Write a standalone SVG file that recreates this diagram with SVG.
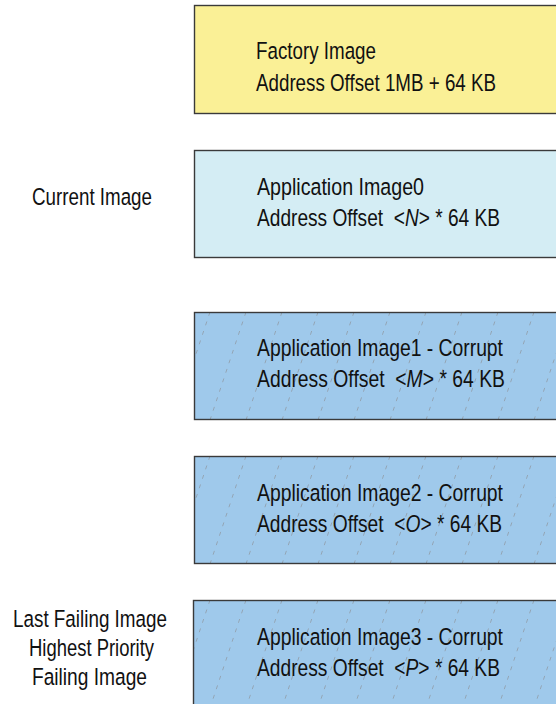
<svg xmlns="http://www.w3.org/2000/svg" width="556" height="704" viewBox="0 0 556 704">
<style>
.box{stroke:#3a3a3a;stroke-width:1.4}
.t{font-family:"Liberation Sans",Arial,sans-serif;font-size:24.5px;fill:#111;white-space:pre}
.lbl{font-family:"Liberation Sans",Arial,sans-serif;font-size:24.5px;fill:#111;text-anchor:middle}
.h{stroke:#8f9aa6;stroke-width:0.8;stroke-dasharray:4 6;fill:none}
</style>
<defs>
<pattern id="hatch3" patternUnits="userSpaceOnUse" x="174" y="312" width="36" height="108">
<rect width="36" height="108" fill="#9fc9eb"/>
<path class="h" d="M36 0L0 108M72 0L36 108M0 0L-36 108"/>
</pattern>
<pattern id="hatch4" patternUnits="userSpaceOnUse" x="174" y="456" width="36" height="108">
<rect width="36" height="108" fill="#9fc9eb"/>
<path class="h" d="M36 0L0 108M72 0L36 108M0 0L-36 108"/>
</pattern>
<pattern id="hatch5" patternUnits="userSpaceOnUse" x="174" y="600" width="36" height="108">
<rect width="36" height="108" fill="#9fc9eb"/>
<path class="h" d="M36 0L0 108M72 0L36 108M0 0L-36 108"/>
</pattern>
</defs>
<rect width="556" height="704" fill="#fff"/>
<g id="connectors"></g>
<g id="factory">
<rect class="box" x="194.5" y="5.5" width="370" height="108" fill="#faf096"/>
<text class="t" x="256" y="59" textLength="120" lengthAdjust="spacingAndGlyphs">Factory Image</text>
<text class="t" x="256" y="91" textLength="240" lengthAdjust="spacingAndGlyphs">Address Offset 1MB + 64 KB</text>
</g>
<g id="app0">
<rect class="box" x="194.5" y="150.5" width="370" height="107" fill="#d4edf4"/>
<text class="t" x="257" y="195" textLength="167" lengthAdjust="spacingAndGlyphs">Application Image0</text>
<text class="t" x="257" y="226" textLength="243" lengthAdjust="spacingAndGlyphs">Address Offset  &lt;<tspan font-style="italic">N</tspan>&gt; * 64 KB</text>
</g>
<g id="current-label">
<text class="lbl" x="92" y="205" textLength="120" lengthAdjust="spacingAndGlyphs">Current Image</text>
</g>
<g id="app1">
<rect class="box" x="194.5" y="312.5" width="370" height="107" fill="url(#hatch3)"/>
<text class="t" x="257" y="356" textLength="246" lengthAdjust="spacingAndGlyphs">Application Image1 - Corrupt</text>
<text class="t" x="257" y="387" textLength="248" lengthAdjust="spacingAndGlyphs">Address Offset  &lt;<tspan font-style="italic">M</tspan>&gt; * 64 KB</text>
</g>
<g id="app2">
<rect class="box" x="194.5" y="456.5" width="370" height="107" fill="url(#hatch4)"/>
<text class="t" x="257" y="501" textLength="246" lengthAdjust="spacingAndGlyphs">Application Image2 - Corrupt</text>
<text class="t" x="257" y="532" textLength="245" lengthAdjust="spacingAndGlyphs">Address Offset  &lt;<tspan font-style="italic">O</tspan>&gt; * 64 KB</text>
</g>
<g id="app3">
<rect class="box" x="193.5" y="600.5" width="370" height="120" fill="url(#hatch5)"/>
<text class="t" x="257" y="645" textLength="246" lengthAdjust="spacingAndGlyphs">Application Image3 - Corrupt</text>
<text class="t" x="257" y="676" textLength="243" lengthAdjust="spacingAndGlyphs">Address Offset  &lt;<tspan font-style="italic">P</tspan>&gt; * 64 KB</text>
</g>
<g id="last-failing-label">
<text class="lbl" x="90" y="627" textLength="154" lengthAdjust="spacingAndGlyphs">Last Failing Image</text>
<text class="lbl" x="91.5" y="656" textLength="125" lengthAdjust="spacingAndGlyphs">Highest Priority</text>
<text class="lbl" x="89.5" y="685" textLength="115" lengthAdjust="spacingAndGlyphs">Failing Image</text>
</g>
</svg>
